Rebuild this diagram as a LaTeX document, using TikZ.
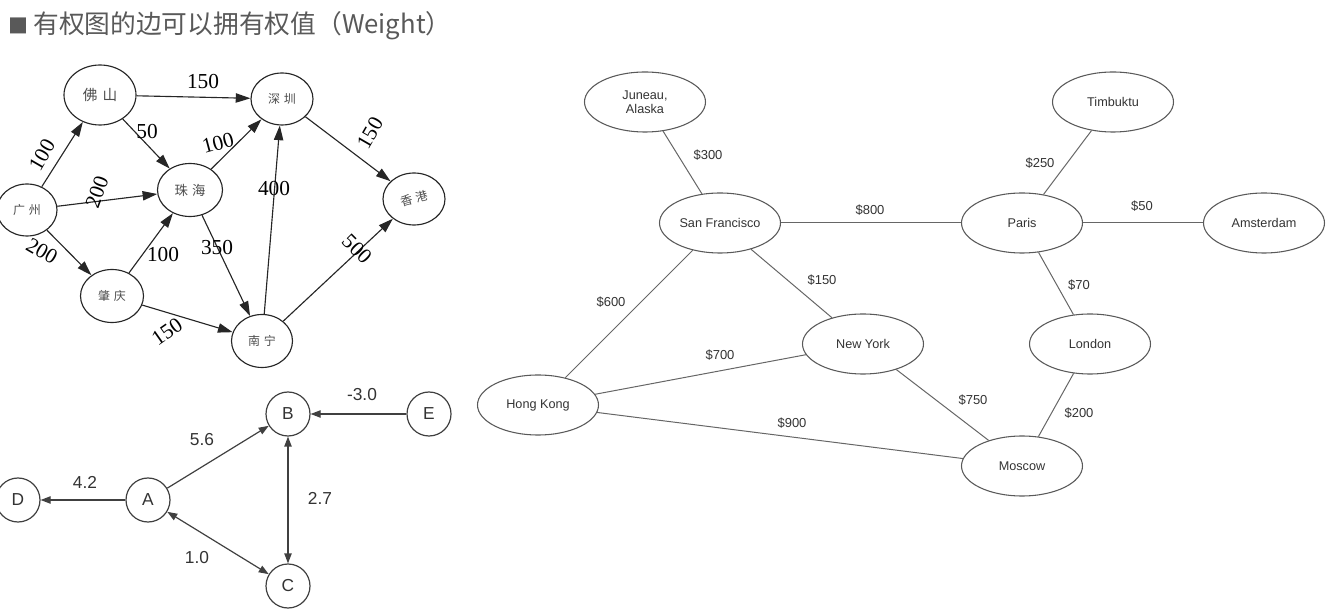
\documentclass[tikz,border=0pt]{standalone}
\usepackage{fontspec}
\setmainfont{Liberation Serif}
\setsansfont{Liberation Sans}
\newfontfamily\cjk{Noto Sans CJK SC}
\usetikzlibrary{arrows.meta,shapes.geometric}

\definecolor{titlegray}{HTML}{595959}

\tikzset{
  % city graph with directed, weighted edges
  cn/.style={ellipse, draw=black!85, line width=0.85pt, inner sep=0pt,
    text=black!70, font=\cjk\fontsize{9}{9}\selectfont},
  cnedge/.style={draw=black!85, line width=0.85pt, ->,
    >={Triangle[length=11pt,width=7pt]}},
  cnlbl/.style={font=\fontsize{16}{16}\selectfont, inner sep=0pt},
  % lettered graph
  circ/.style={circle, draw=black!75, line width=0.9pt, minimum size=33pt,
    inner sep=0pt, font=\sffamily\fontsize{13}{13}\selectfont, text=black!80},
  circedge/.style={draw=black!75, line width=0.9pt,
    >={Triangle[length=7.5pt,width=5.5pt]}},
  circlbl/.style={font=\sffamily\fontsize{13}{13}\selectfont, text=black!80, inner sep=0pt},
  % flight network
  city/.style={ellipse, draw=black!65, line width=0.8pt, minimum width=90.75pt,
    minimum height=45pt, inner sep=0pt, align=center,
    font=\sffamily\fontsize{9.5}{10.5}\selectfont, text=black!80},
  road/.style={draw=black!60, line width=0.75pt},
  cost/.style={font=\sffamily\fontsize{9.75}{10}\selectfont, text=black!80, inner sep=0pt},
}

\begin{document}
\begin{tikzpicture}[x=0.75pt,y=-0.75pt]
\useasboundingbox (0,0) rectangle (1332,616);

% heading
\node[anchor=center, text=titlegray, inner sep=0pt, font=\cjk\fontsize{15}{15}\selectfont] (sq) at (18,26) {■};
\node[anchor=west, text=titlegray, inner sep=0pt, font=\cjk\fontsize{19.3}{19.3}\selectfont] (title) at (33,26) {有权图的边可以拥有权值（Weight）};

% ---- directed city graph ----
\node[cn, minimum width=54pt, minimum height=45pt, font=\cjk\fontsize{11}{11}\selectfont] (fs) at (100,95) {佛\hspace{0.35em}山};
\node[cn, minimum width=46.5pt, minimum height=39pt] (sz) at (282,99) {深\hspace{0.3em}圳};
\node[cn, minimum width=45pt, minimum height=39pt] (gz) at (27,210) {广\hspace{0.3em}州};
\node[cn, minimum width=48.75pt, minimum height=39.75pt, font=\cjk\fontsize{10}{10}\selectfont] (zh) at (190,190) {珠\hspace{0.3em}海};
\node[cn, minimum width=46.5pt, minimum height=39pt] (hk) at (414,199) {\rotatebox{15}{香\hspace{0.3em}港}};
\node[cn, minimum width=47.25pt, minimum height=39.75pt] (zq) at (112,296) {肇\hspace{0.3em}庆};
\node[cn, minimum width=45.75pt, minimum height=39.75pt] (nn) at (262,341) {南\hspace{0.3em}宁};

\draw[cnedge] (gz) -- (fs);
\draw[cnedge] (gz) -- (zh);
\draw[cnedge] (gz) -- (zq);
\draw[cnedge] (fs) -- (sz);
\draw[cnedge] (fs) -- (zh);
\draw[cnedge] (zh) -- (sz);
\draw[cnedge] (zq) -- (zh);
\draw[cnedge] (zh) -- (nn);
\draw[cnedge] (nn) -- (sz);
\draw[cnedge] (sz) -- (hk);
\draw[cnedge] (nn) -- (hk);
\draw[cnedge] (zq) -- (nn);

\node[cnlbl, rotate=60] (w1) at (42,155) {100};
\node[cnlbl, rotate=70] (w2) at (97,192) {200};
\node[cnlbl, rotate=-30] (w3) at (42,251) {200};
\node[cnlbl] (w4) at (203,82) {150};
\node[cnlbl] (w5) at (147,132) {50};
\node[cnlbl, rotate=15] (w6) at (218,143) {100};
\node[cnlbl] (w7) at (163,255) {100};
\node[cnlbl] (w8) at (217,248) {350};
\node[cnlbl] (w9) at (274,189) {400};
\node[cnlbl, rotate=60] (w10) at (370,133) {150};
\node[cnlbl, rotate=-45] (w11) at (357,249) {500};
\node[cnlbl, rotate=35] (w12) at (167,332) {150};

% ---- lettered graph ----
\node[circ] (B) at (288,414) {B};
\node[circ] (E) at (429,414) {E};
\node[circ] (D) at (18,500) {D};
\node[circ] (A) at (148,500) {A};
\node[circ] (C) at (288,586) {C};

\draw[circedge, ->] (E) -- (B);
\draw[circedge, ->] (A) -- (B);
\draw[circedge, ->] (A) -- (D);
\draw[circedge, <->] (B) -- (C);
\draw[circedge, <->] (A) -- (C);

\node[circlbl] (lEB) at (362,395) {-3.0};
\node[circlbl] (lAB) at (202,440) {5.6};
\node[circlbl] (lAD) at (85,482) {4.2};
\node[circlbl] (lBC) at (320,498) {2.7};
\node[circlbl] (lAC) at (197,558) {1.0};

% ---- flight network ----
\node[city] (jun) at (645,102) {Juneau,\\Alaska};
\node[city] (sf) at (720,223) {San Francisco};
\node[city] (tim) at (1113,102) {Timbuktu};
\node[city] (par) at (1022,223) {Paris};
\node[city] (ams) at (1264,223) {Amsterdam};
\node[city] (lon) at (1090,344) {London};
\node[city] (ny) at (863,344) {New York};
\node[city] (hkg) at (538,405) {Hong Kong};
\node[city] (mos) at (1022,466) {Moscow};

\draw[road] (jun) -- (sf);
\draw[road] (sf) -- (par);
\draw[road] (sf) -- (ny);
\draw[road] (sf) -- (hkg);
\draw[road] (tim) -- (par);
\draw[road] (par) -- (ams);
\draw[road] (par) -- (lon);
\draw[road] (hkg) -- (ny);
\draw[road] (hkg) -- (mos);
\draw[road] (ny) -- (mos);
\draw[road] (lon) -- (mos);

\node[cost] (c1) at (708,155) {\$300};
\node[cost] (c2) at (870,210) {\$800};
\node[cost] (c3) at (822,280) {\$150};
\node[cost] (c4) at (611,302) {\$600};
\node[cost] (c5) at (1040,163) {\$250};
\node[cost] (c6) at (1142,206) {\$50};
\node[cost] (c7) at (1079,285) {\$70};
\node[cost] (c8) at (720,355) {\$700};
\node[cost] (c9) at (792,423) {\$900};
\node[cost] (c10) at (973,400) {\$750};
\node[cost] (c11) at (1079,413) {\$200};
\end{tikzpicture}
\end{document}
